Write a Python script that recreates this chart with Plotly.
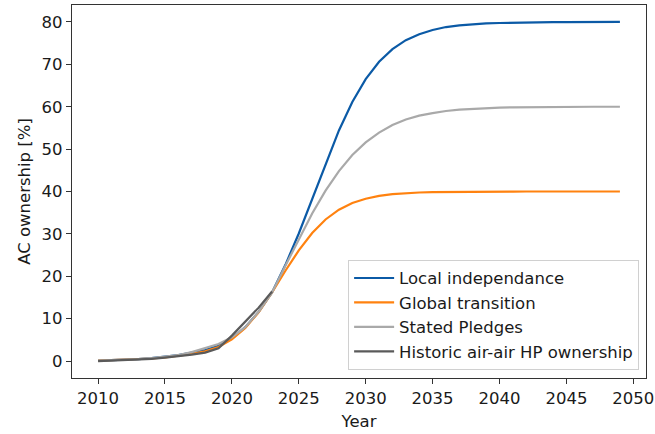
import plotly.graph_objects as go

# Scenario years and historic years
years = list(range(2010, 2050))
hist_years = list(range(2010, 2024))

# AC ownership [%] per scenario
local_independance = [
    0.1, 0.2, 0.3, 0.45, 0.7, 1.0, 1.4, 2.0, 2.6, 3.6,
    5.3, 8.0, 11.6, 16.2, 22.7, 30.1, 38.3, 46.6, 54.4, 61.1,
    66.5, 70.6, 73.6, 75.7, 77.1, 78.1, 78.8, 79.2, 79.5, 79.65,
    79.75, 79.83, 79.88, 79.92, 79.94, 79.96, 79.97, 79.98, 79.99, 80.0,
]
global_transition = [
    0.1, 0.2, 0.3, 0.4, 0.6, 0.85, 1.2, 1.7, 2.3, 3.3,
    5.1, 7.8, 11.5, 16.2, 21.3, 26.1, 30.2, 33.4, 35.7, 37.3,
    38.3, 38.96, 39.36, 39.61, 39.76, 39.86, 39.91, 39.95, 39.97, 39.98,
    39.99, 39.99, 40.0, 40.0, 40.0, 40.0, 40.0, 40.0, 40.0, 40.0,
]
stated_pledges = [
    0.1, 0.2, 0.3, 0.45, 0.7, 1.0, 1.4, 2.1, 3.0, 4.0,
    5.6, 8.0, 11.6, 16.2, 22.5, 28.8, 34.8, 40.2, 44.8, 48.6,
    51.6, 53.9, 55.7, 57.0, 57.9, 58.5, 59.0, 59.3, 59.5, 59.68,
    59.78, 59.85, 59.9, 59.93, 59.95, 59.97, 59.98, 59.99, 60.0, 60.0,
]
historic_hp = [0.0, 0.1, 0.2, 0.3, 0.5, 0.8, 1.1, 1.5, 2.0, 3.0, 6.0, 9.2, 12.6, 16.4]

fig = go.Figure()

series = [
    ("Local independance", years, local_independance, "#0b5aa6"),
    ("Global transition", years, global_transition, "#ff820f"),
    ("Stated Pledges", years, stated_pledges, "#a9a9a9"),
    ("Historic air-air HP ownership", hist_years, historic_hp, "#5a5a5a"),
]
for name, xs, ys, color in series:
    fig.add_trace(go.Scatter(
        x=xs, y=ys, name=name, mode="lines",
        line=dict(color=color, width=2.2),
    ))

font = dict(family="DejaVu Sans", size=16.5, color="#1a1a1a")

fig.update_layout(
    width=655, height=434,
    margin=dict(l=72, r=9, t=5, b=56),
    paper_bgcolor="white", plot_bgcolor="white",
    font=font,
    showlegend=True,
    legend=dict(
        x=0.988, y=0.022, xanchor="right", yanchor="bottom",
        bgcolor="rgba(255,255,255,0.85)",
        bordercolor="#d0d0d0", borderwidth=1,
        font=font, tracegroupgap=0, itemwidth=40,
    ),
    xaxis=dict(
        range=[2008.05, 2050.95], automargin=False,
        tickmode="array", tickvals=list(range(2010, 2051, 5)),
        ticks="outside", ticklen=5, tickwidth=1.2, tickcolor="#333",
        ticklabeloverflow="allow",
        showline=True, linecolor="#333", linewidth=1.2, mirror=True,
        showgrid=False, zeroline=False,
        title=dict(text="Year", standoff=8, font=font),
    ),
    yaxis=dict(
        range=[-4, 84], automargin=False,
        tickmode="array", tickvals=list(range(0, 81, 10)),
        ticks="outside", ticklen=5, tickwidth=1.2, tickcolor="#333",
        showline=True, linecolor="#333", linewidth=1.2, mirror=True,
        showgrid=False, zeroline=False,
        title=dict(text="AC ownership [%]", standoff=6, font=font),
    ),
)

fig.write_html("out.html")
